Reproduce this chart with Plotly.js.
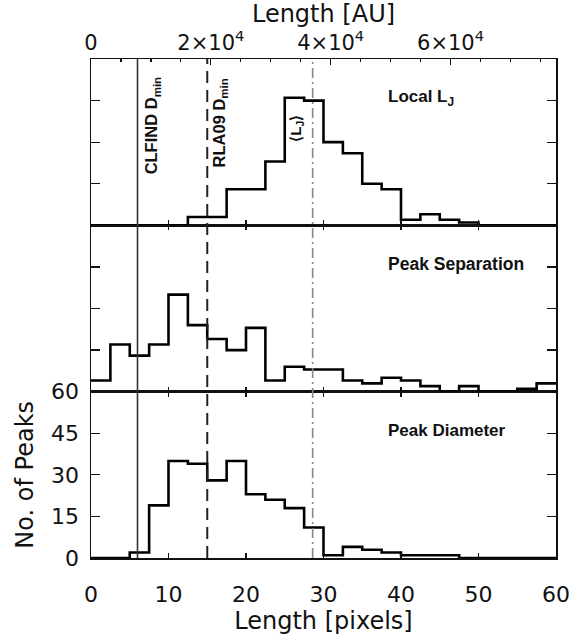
<!DOCTYPE html>
<html><head><meta charset="utf-8">
<script src="https://cdn.plot.ly/plotly-3.0.1.min.js"></script>
<style>html,body{margin:0;padding:0;background:#fff}#chart{width:572px;height:637px}</style>
</head><body><div id="chart"></div>
<script>
// ---- data ----
const binLeft = [0,2.5,5,7.5,10,12.5,15,17.5,20,22.5,25,27.5,30,32.5,35,37.5,40,42.5,45,47.5,50,52.5,55,57.5];
const binRightEnd = 60;
const localLJ        = [0,0,0,0,0,3,3,13,13,23,46,45,30,26,15,13,2,4,2,1,0,0,0,0];
const peakSeparation = [4,17,13,17,35,24,19,15,23,4,9,8,8,4,3,5,4,2,0,2,0,0,1,3];
const peakDiameter   = [0,0,2,19,35,34,28,35,23,21,18,11,1,4,3,2,1,1,1,0,0,0,0,0];
const countTicks = [0,15,30,45,60];
const pixelTicks = [0,10,20,30,40,50,60];
const auTickVals = [0,20000,40000,60000];
const auTickText = ['0','2×10<sup>4</sup>','4×10<sup>4</sup>','6×10<sup>4</sup>'];
const refLineX = [6, 15, 28.6];               // CLFIND Dmin, RLA09 Dmin, <L_J>
const refLineLabels = ['CLFIND D<sub>min</sub>','RLA09 D<sub>min</sub>','⟨L<sub>J</sub>⟩'];
const panelNames = ['Local L<sub>J</sub>','Peak Separation','Peak Diameter'];

// ---- build ----
function stepTrace(vals, xa, ya){
  return {
    type:'scatter', mode:'lines',
    x: binLeft.concat([binRightEnd]),
    y: vals.concat([vals[vals.length-1]]),
    line:{shape:'hv', color:'#000', width:2.6},
    xaxis:xa, yaxis:ya, hoverinfo:'skip', showlegend:false
  };
}
const traces = [
  stepTrace(peakDiameter,'x','y'),
  stepTrace(peakSeparation,'x2','y2'),
  stepTrace(localLJ,'x3','y3'),
  {type:'scatter', mode:'lines', x:[0,77600], y:[null,null], xaxis:'x4', yaxis:'y3', showlegend:false, hoverinfo:'skip'}
];

const REG = 'DejaVu Sans';
const BOLD = 'Liberation Sans';
const LC = '#111';
const third = 1/3;

const baseX = {
  range:[0,60], tickvals:pixelTicks, ticks:'inside', ticklen:5, tickwidth:1.2, tickcolor:LC,
  showline:true, linecolor:LC, linewidth:1.5, showgrid:false, zeroline:false, automargin:false
};
const baseY = {
  range:[0,60], tickvals:countTicks, ticks:'inside', ticklen:9, tickwidth:1.2, tickcolor:LC,
  showline:true, linecolor:LC, linewidth:1.5, showgrid:false, zeroline:false, automargin:false,
  mirror:'ticks'
};
const boldFont = (s) => ({family:BOLD, size:s, color:'#111', weight:'bold'});

const layout = {
  width:572, height:637,
  margin:{l:91, r:16, t:59, b:79},
  paper_bgcolor:'#fff', plot_bgcolor:'#fff',
  font:{family:REG, size:22, color:'#111'},
  xaxis: Object.assign({}, baseX, {anchor:'y', domain:[0,1], mirror:'ticks',
    ticklabelstandoff:16, tickfont:{family:REG, size:22},
    title:{text:'Length [pixels]', font:{family:REG, size:24}, standoff:4}}),
  xaxis2: Object.assign({}, baseX, {anchor:'y2', matches:'x', mirror:'ticks', showticklabels:false}),
  xaxis3: Object.assign({}, baseX, {anchor:'y3', matches:'x', mirror:true, showticklabels:false}),
  xaxis4: {overlaying:'x3', anchor:'y3', side:'top', range:[0,77600],
    tickvals:auTickVals, ticktext:auTickText, ticks:'inside', ticklen:6, tickwidth:1.2, tickcolor:LC,
    minor:{tick0:0, dtick:5000, ticks:'inside', ticklen:3, tickcolor:LC, showgrid:false},
    showgrid:false, zeroline:false, showline:false, automargin:false,
    ticklabelstandoff:4, tickfont:{family:REG, size:21},
    title:{text:'Length [AU]', font:{family:REG, size:24}, standoff:0}},
  yaxis: Object.assign({}, baseY, {domain:[0,third], anchor:'x',
    ticklabelstandoff:6, tickfont:{family:REG, size:22},
    title:{text:'No. of Peaks', font:{family:REG, size:24}, standoff:10}}),
  yaxis2: Object.assign({}, baseY, {domain:[third,2*third], anchor:'x2', showticklabels:false}),
  yaxis3: Object.assign({}, baseY, {domain:[2*third,1], anchor:'x3', showticklabels:false}),
  shapes: [
    {type:'line', xref:'x', yref:'paper', x0:refLineX[0], x1:refLineX[0], y0:0, y1:1,
     line:{color:'#333', width:1.6}},
    {type:'line', xref:'x', yref:'paper', x0:refLineX[1], x1:refLineX[1], y0:0, y1:1,
     line:{color:'#222', width:2, dash:'12px,7px'}},
    {type:'line', xref:'x', yref:'paper', x0:refLineX[2], x1:refLineX[2], y0:0, y1:1,
     line:{color:'#888', width:1.6, dash:'10px,4px,2px,4px'}}
  ],
  annotations: [
    {text:panelNames[0], xref:'x3', yref:'y3', x:38, y:46, xanchor:'left', yanchor:'middle', showarrow:false, font:boldFont(17)},
    {text:panelNames[1], xref:'x2', yref:'y2', x:38, y:46, xanchor:'left', yanchor:'middle', showarrow:false, font:boldFont(17.5)},
    {text:panelNames[2], xref:'x', yref:'y', x:38, y:46, xanchor:'left', yanchor:'middle', showarrow:false, font:boldFont(17)},
    {text:refLineLabels[0], xref:'x3', yref:'y3', x:7.85, y:36, textangle:-90, showarrow:false, font:boldFont(16.5)},
    {text:refLineLabels[1], xref:'x3', yref:'y3', x:16.6, y:37, textangle:-90, showarrow:false, font:boldFont(16.5)},
    {text:refLineLabels[2], xref:'x3', yref:'y3', x:26.5, y:35, textangle:-90, showarrow:false, font:boldFont(15)}
  ]
};

Plotly.newPlot('chart', traces, layout, {displayModeBar:false, staticPlot:true});
</script>
</body></html>
